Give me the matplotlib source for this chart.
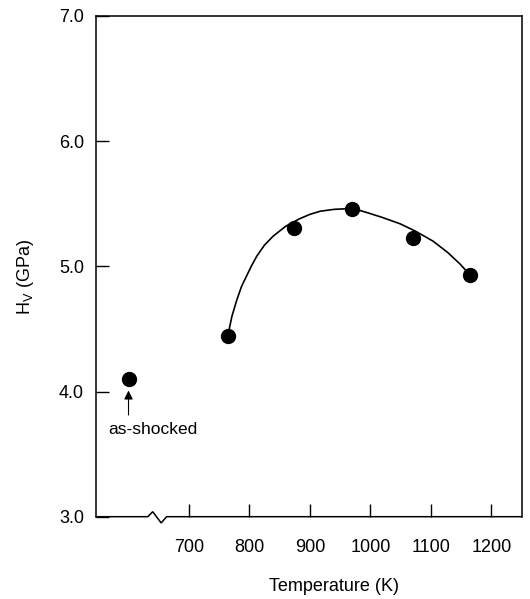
import numpy as np
import matplotlib
matplotlib.use("Agg")
import matplotlib.pyplot as plt

plt.rcParams['font.family'] = ['Liberation Sans', 'DejaVu Sans']

# Data
temps = [764, 874, 969, 1070, 1165]
hardness = [4.44, 5.31, 5.455, 5.23, 4.93]

shocked_temp = 600
shocked_hv = 4.10

# fitted curve
curve_t = [764, 771, 779, 787, 795, 803, 812, 825, 839, 860, 883, 900, 917,
           940, 961, 980, 994, 1020, 1049, 1075, 1104, 1128, 1148, 1165]
curve_h = [4.44, 4.60, 4.73, 4.84, 4.92, 5.00, 5.08, 5.17, 5.24, 5.32, 5.38, 5.415, 5.44,
           5.455, 5.46, 5.45, 5.43, 5.39, 5.34, 5.28, 5.20, 5.11, 5.02, 4.93]

xticks = [700, 800, 900, 1000, 1100, 1200]
yticks = [3.0, 4.0, 5.0, 6.0, 7.0]

fig = plt.figure(figsize=(5.3, 5.99), dpi=100)
ax = fig.add_axes([0.182, 0.1374, 0.802, 0.836])

ax.plot(curve_t, curve_h, color='black', lw=1.2)
ax.plot(temps, hardness, 'o', color='black', ms=10)
ax.plot([shocked_temp], [shocked_hv], 'o', color='black', ms=10)

ax.annotate('', xy=(shocked_temp, 4.03), xytext=(shocked_temp, 3.79),
            arrowprops=dict(arrowstyle='-|>', color='black', lw=0.8,
                            mutation_scale=13))
ax.text(640, 3.70, 'as-shocked', ha='center', va='center', fontsize=12.5)

ax.set_xlim(547, 1250)
ax.set_ylim(3.0, 7.0)
ax.set_xticks(xticks)
ax.set_yticks(yticks)
ax.set_yticklabels(['%.1f' % v for v in yticks])
ax.tick_params(direction='in', length=9.5, width=1.0, labelsize=13)
ax.tick_params(axis='x', pad=16)
ax.tick_params(axis='y', pad=9)

for s in ax.spines.values():
    s.set_linewidth(1.1)
# bottom axis drawn by hand to include the break mark
ax.spines['bottom'].set_visible(False)
ax.plot([547, 632, 640, 654, 663, 1250], [3.0, 3.0, 3.04, 2.95, 3.0, 3.0],
        color='black', lw=1.1, clip_on=False, solid_joinstyle='miter')

ax.set_ylabel('H$_\\mathregular{V}$ (GPa)', fontsize=13)
ax.yaxis.set_label_coords(-0.142, 0.479)
ax.set_xlabel('Temperature (K)', fontsize=13)
ax.xaxis.set_label_coords(0.56, -0.122)

fig.savefig('out.png', dpi=100)
